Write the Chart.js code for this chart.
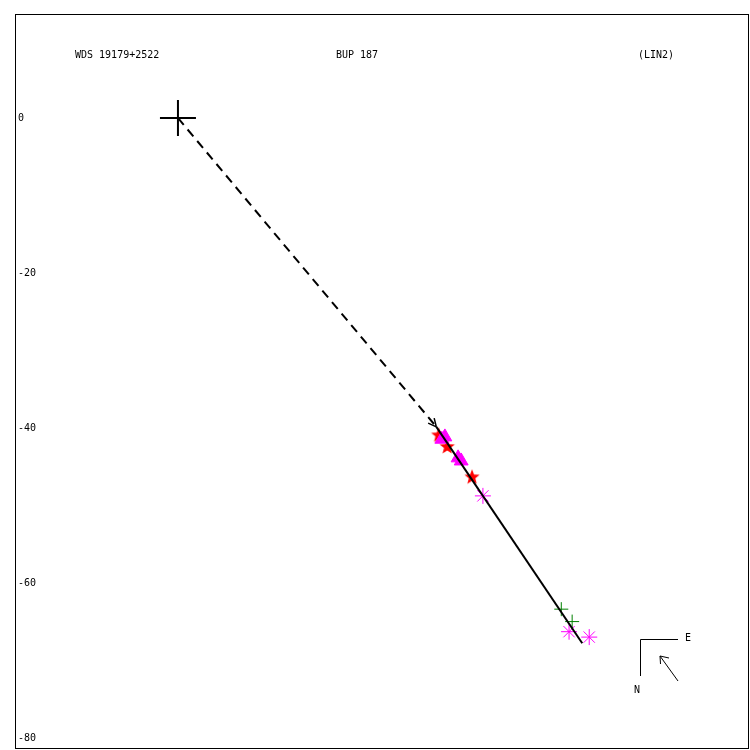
<!DOCTYPE html>
<html>
<head>
<meta charset="utf-8">
<script src="https://cdn.jsdelivr.net/npm/chart.js@4/dist/chart.umd.min.js"></script>
<style>
html,body{margin:0;padding:0;background:#fff;}
#wrap{width:750px;height:750px;}
</style>
</head>
<body>
<div id="wrap"><canvas id="c" width="750" height="750"></canvas></div>
<script>
// ---- data (arcsec offsets) ----
const titleLeft = "WDS 19179+2522";
const titleMid = "BUP 187";
const titleRight = "(LIN2)";
const yTicks = [0, -20, -40, -60, -80];
const primary = [{x: 0, y: 0}];
const dashedPath = [{x: 0, y: 0}, {x: 33.3, y: -39.8}];
const solidPath = [{x: 33.3, y: -39.8}, {x: 52.1, y: -67.7}];
const triangles = [{x: 34.4, y: -41.1}, {x: 34.0, y: -41.4}, {x: 36.1, y: -43.8}, {x: 36.5, y: -44.2}];
const stars = [{x: 33.6, y: -40.9}, {x: 34.7, y: -42.4}, {x: 37.9, y: -46.3}];
const asterisks = [{x: 39.3, y: -48.7}, {x: 50.4, y: -66.2}, {x: 53.0, y: -66.9}];
const crosses = [{x: 49.4, y: -63.3}, {x: 50.8, y: -64.9}];

// filled red star image
function makeStar(color, R, r) {
  const s = Math.ceil(R * 2) + 2;
  const cv = document.createElement('canvas');
  cv.width = s; cv.height = s;
  const g = cv.getContext('2d');
  g.fillStyle = color;
  g.beginPath();
  for (let i = 0; i < 10; i++) {
    const rad = i % 2 === 0 ? R : r;
    const a = -Math.PI / 2 + i * Math.PI / 5;
    const px = s / 2 + rad * Math.cos(a), py = s / 2 + rad * Math.sin(a);
    if (i === 0) g.moveTo(px, py); else g.lineTo(px, py);
  }
  g.closePath();
  g.fill();
  return cv;
}
const starImg = makeStar('#ff0000', 8, 3.4);

const FONT = '"DejaVu Sans Mono", monospace';

const decor = {
  id: 'decor',
  afterDatasetsDraw(chart) {
    const ctx = chart.ctx;
    const a = chart.chartArea;
    ctx.save();
    // frame
    ctx.strokeStyle = '#000';
    ctx.lineWidth = 1;
    ctx.strokeRect(a.left + 0.5, a.top + 0.5, a.right - a.left - 1, a.bottom - a.top - 1);
    // titles
    ctx.fillStyle = '#000';
    ctx.font = '10px ' + FONT;
    ctx.textBaseline = 'middle';
    ctx.textAlign = 'left';
    ctx.fillText(titleLeft, 75, 55);
    ctx.fillText(titleMid, 336, 55);
    ctx.fillText(titleRight, 638, 55);
    // arrowhead at end of dashed path
    const meta = chart.getDatasetMeta(0);
    const p0 = meta.data[0], p1 = meta.data[1];
    const ang = Math.atan2(p1.y - p0.y, p1.x - p0.x);
    ctx.lineWidth = 1.5;
    ctx.beginPath();
    for (const s of [-1, 1]) {
      ctx.moveTo(p1.x, p1.y);
      ctx.lineTo(p1.x - 9 * Math.cos(ang + s * 0.45), p1.y - 9 * Math.sin(ang + s * 0.45));
    }
    ctx.stroke();
    // compass
    ctx.lineWidth = 1;
    ctx.beginPath();
    ctx.moveTo(678, 639.5); ctx.lineTo(640.5, 639.5); ctx.lineTo(640.5, 676);
    ctx.moveTo(678, 681); ctx.lineTo(660, 656);
    ctx.moveTo(660, 656); ctx.lineTo(669, 658);
    ctx.moveTo(660, 656); ctx.lineTo(660.5, 664);
    ctx.stroke();
    ctx.fillText('E', 685, 638);
    ctx.fillText('N', 634, 690);
    ctx.restore();
  }
};

new Chart(document.getElementById('c'), {
  type: 'scatter',
  data: {
    datasets: [
      {data: dashedPath, showLine: true, borderColor: '#000', borderWidth: 2, borderDash: [9, 6], pointRadius: 0},
      {data: solidPath, showLine: true, borderColor: '#000', borderWidth: 2, pointRadius: 0},
      {data: primary, pointStyle: 'cross', pointRadius: 18, borderColor: '#000', borderWidth: 2},
      {data: crosses, pointStyle: 'cross', pointRadius: 7, borderColor: '#008000', borderWidth: 1},
      {data: asterisks, pointStyle: 'star', pointRadius: 8, borderColor: '#ff00ff', borderWidth: 1},
      {data: triangles, pointStyle: 'triangle', pointRadius: 8, backgroundColor: '#ff00ff', borderColor: '#ff00ff', borderWidth: 1},
      {data: stars, pointStyle: starImg, pointRadius: 8}
    ]
  },
  options: {
    responsive: false,
    animation: false,
    layout: {autoPadding: false, padding: {left: 15, top: 14, right: 1, bottom: 1}},
    plugins: {legend: {display: false}, tooltip: {enabled: false}},
    scales: {
      x: {type: 'linear', display: false, min: -21.0, max: 73.59},
      y: {
        type: 'linear', min: -81.32, max: 13.40,
        grid: {display: false, drawTicks: false},
        border: {display: false},
        afterBuildTicks: (s) => { s.ticks = yTicks.map(v => ({value: v})); },
        afterFit: (s) => { s.width = 0; s.paddingTop = 0; s.paddingBottom = 0; s.paddingLeft = 0; s.paddingRight = 0; },
        ticks: {mirror: true, padding: 3, color: '#000', font: {family: FONT, size: 10}, includeBounds: false}
      }
    }
  },
  plugins: [decor]
});
</script>
</body>
</html>
